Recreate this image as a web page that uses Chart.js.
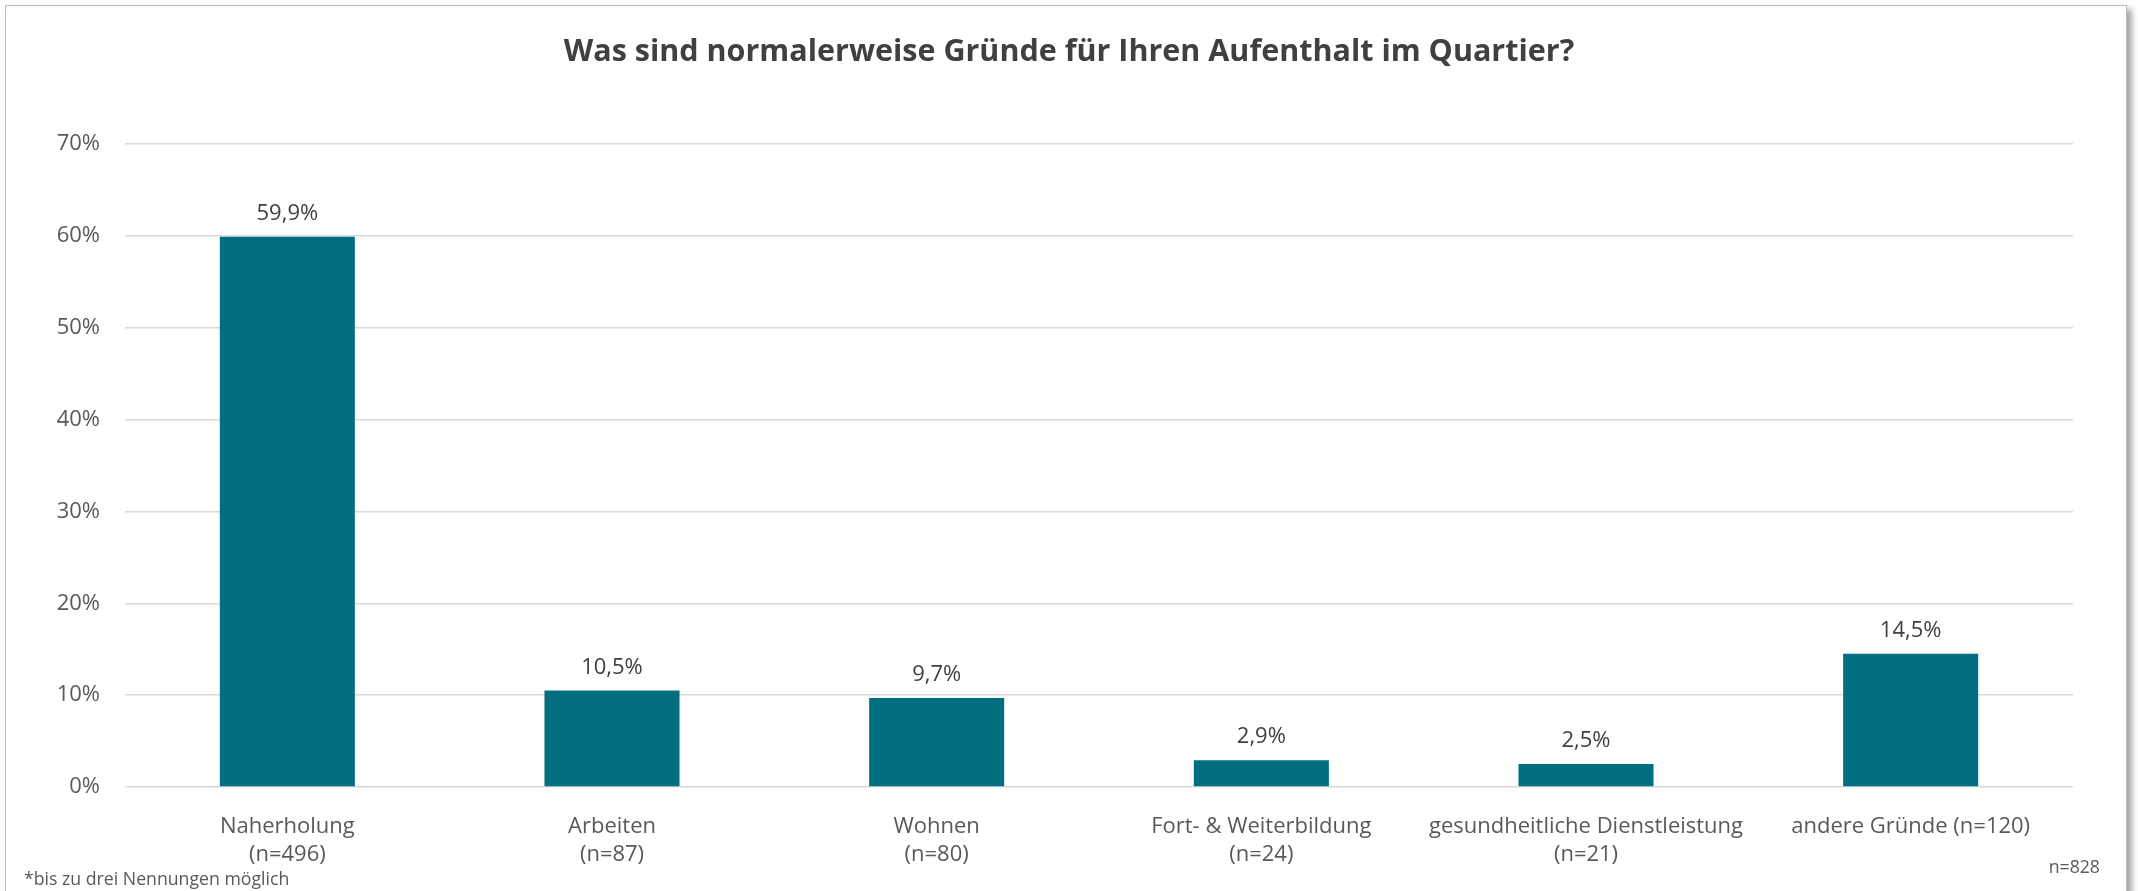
<!DOCTYPE html>
<html>
<head>
<meta charset="utf-8">
<script src="https://cdn.jsdelivr.net/npm/chart.js@4"></script>
<style>
  html, body { margin: 0; padding: 0; background: #fff; overflow: hidden; }
  #frame {
    position: absolute; left: 5px; top: 5px; width: 2120px; height: 920px;
    border: 1.5px solid #bdbdbd; box-shadow: 5px 4px 6px rgba(0,0,0,0.35);
    background: #fff;
  }
  #wrap { position: absolute; left: 0; top: 0; width: 2138px; height: 891px; }
  .note { position: absolute; font-family: "Open Sans", sans-serif; font-size: 17.7px; color: #595959; white-space: nowrap; }
</style>
</head>
<body>
<div id="frame"></div>
<div id="wrap"><canvas id="popChart"></canvas></div>
<div class="note" style="left:24px; top:866px;">*bis zu drei Nennungen möglich</div>
<div class="note" style="right:38px; top:854px;">n=828</div>
<script>
var chartTitle = 'Was sind normalerweise Gründe für Ihren Aufenthalt im Quartier?';
var categoryNames = ['Naherholung', 'Arbeiten', 'Wohnen', 'Fort- & Weiterbildung', 'gesundheitliche Dienstleistung', 'andere Gründe'];
var sampleSizes = [496, 87, 80, 24, 21, 120];
var shares = [59.9, 10.5, 9.7, 2.9, 2.5, 14.5];
var yTicks = [0, 10, 20, 30, 40, 50, 60, 70];

// last category has its n on the same line
var labels = categoryNames.map(function(name, i) {
  if (i === categoryNames.length - 1) return name + ' (n=' + sampleSizes[i] + ')';
  return [name, '(n=' + sampleSizes[i] + ')'];
});

function pct(v) {
  return v.toFixed(1).replace('.', ',') + '%';
}

// value labels above bars + title centred on the whole frame
var overlay = {
  id: 'overlay',
  afterDatasetsDraw: function(chart) {
    var ctx = chart.ctx;
    var meta = chart.getDatasetMeta(0);
    ctx.save();
    ctx.font = '22px "Open Sans"';
    ctx.fillStyle = '#404040';
    ctx.textAlign = 'center';
    ctx.textBaseline = 'alphabetic';
    meta.data.forEach(function(bar, i) {
      ctx.fillText(pct(shares[i]), bar.x, bar.y - 17);
    });
    ctx.font = 'bold 30.5px "Open Sans"';
    ctx.textBaseline = 'middle';
    ctx.fillText(chartTitle, chart.width / 2, 52);
    ctx.restore();
  }
};

Chart.defaults.font.family = '"Open Sans", sans-serif';
Chart.defaults.color = '#595959';

var popCanvas = document.getElementById('popChart').getContext('2d');
var barChart = new Chart(popCanvas, {
  type: 'bar',
  data: {
    labels: labels,
    datasets: [{
      data: shares,
      backgroundColor: '#016F80',
      barPercentage: 0.416,
      categoryPercentage: 1.0
    }]
  },
  options: {
    responsive: true,
    maintainAspectRatio: false,
    animation: false,
    layout: { padding: { left: 0, right: 65, top: 144, bottom: 0 } },
    plugins: {
      legend: { display: false },
      tooltip: { enabled: false },
      title: { display: false }
    },
    scales: {
      x: {
        grid: { display: false },
        border: { display: false },
        ticks: {
          autoSkip: false, maxRotation: 0, padding: 18,
          font: { size: 22, lineHeight: 1.26 }, color: '#595959'
        },
        afterFit: function(scale) { scale.height = 104; }
      },
      y: {
        min: 0, max: 70,
        afterBuildTicks: function(scale) {
          scale.ticks = yTicks.map(function(v) { return { value: v }; });
        },
        grid: { color: '#d9d9d9', lineWidth: 1.5, drawTicks: false },
        border: { display: false },
        ticks: {
          padding: 25,
          font: { size: 22 }, color: '#595959',
          callback: function(v) { return v + '%'; }
        },
        afterFit: function(scale) { scale.width = 125; }
      }
    }
  },
  plugins: [overlay]
});
</script>
</body>
</html>
